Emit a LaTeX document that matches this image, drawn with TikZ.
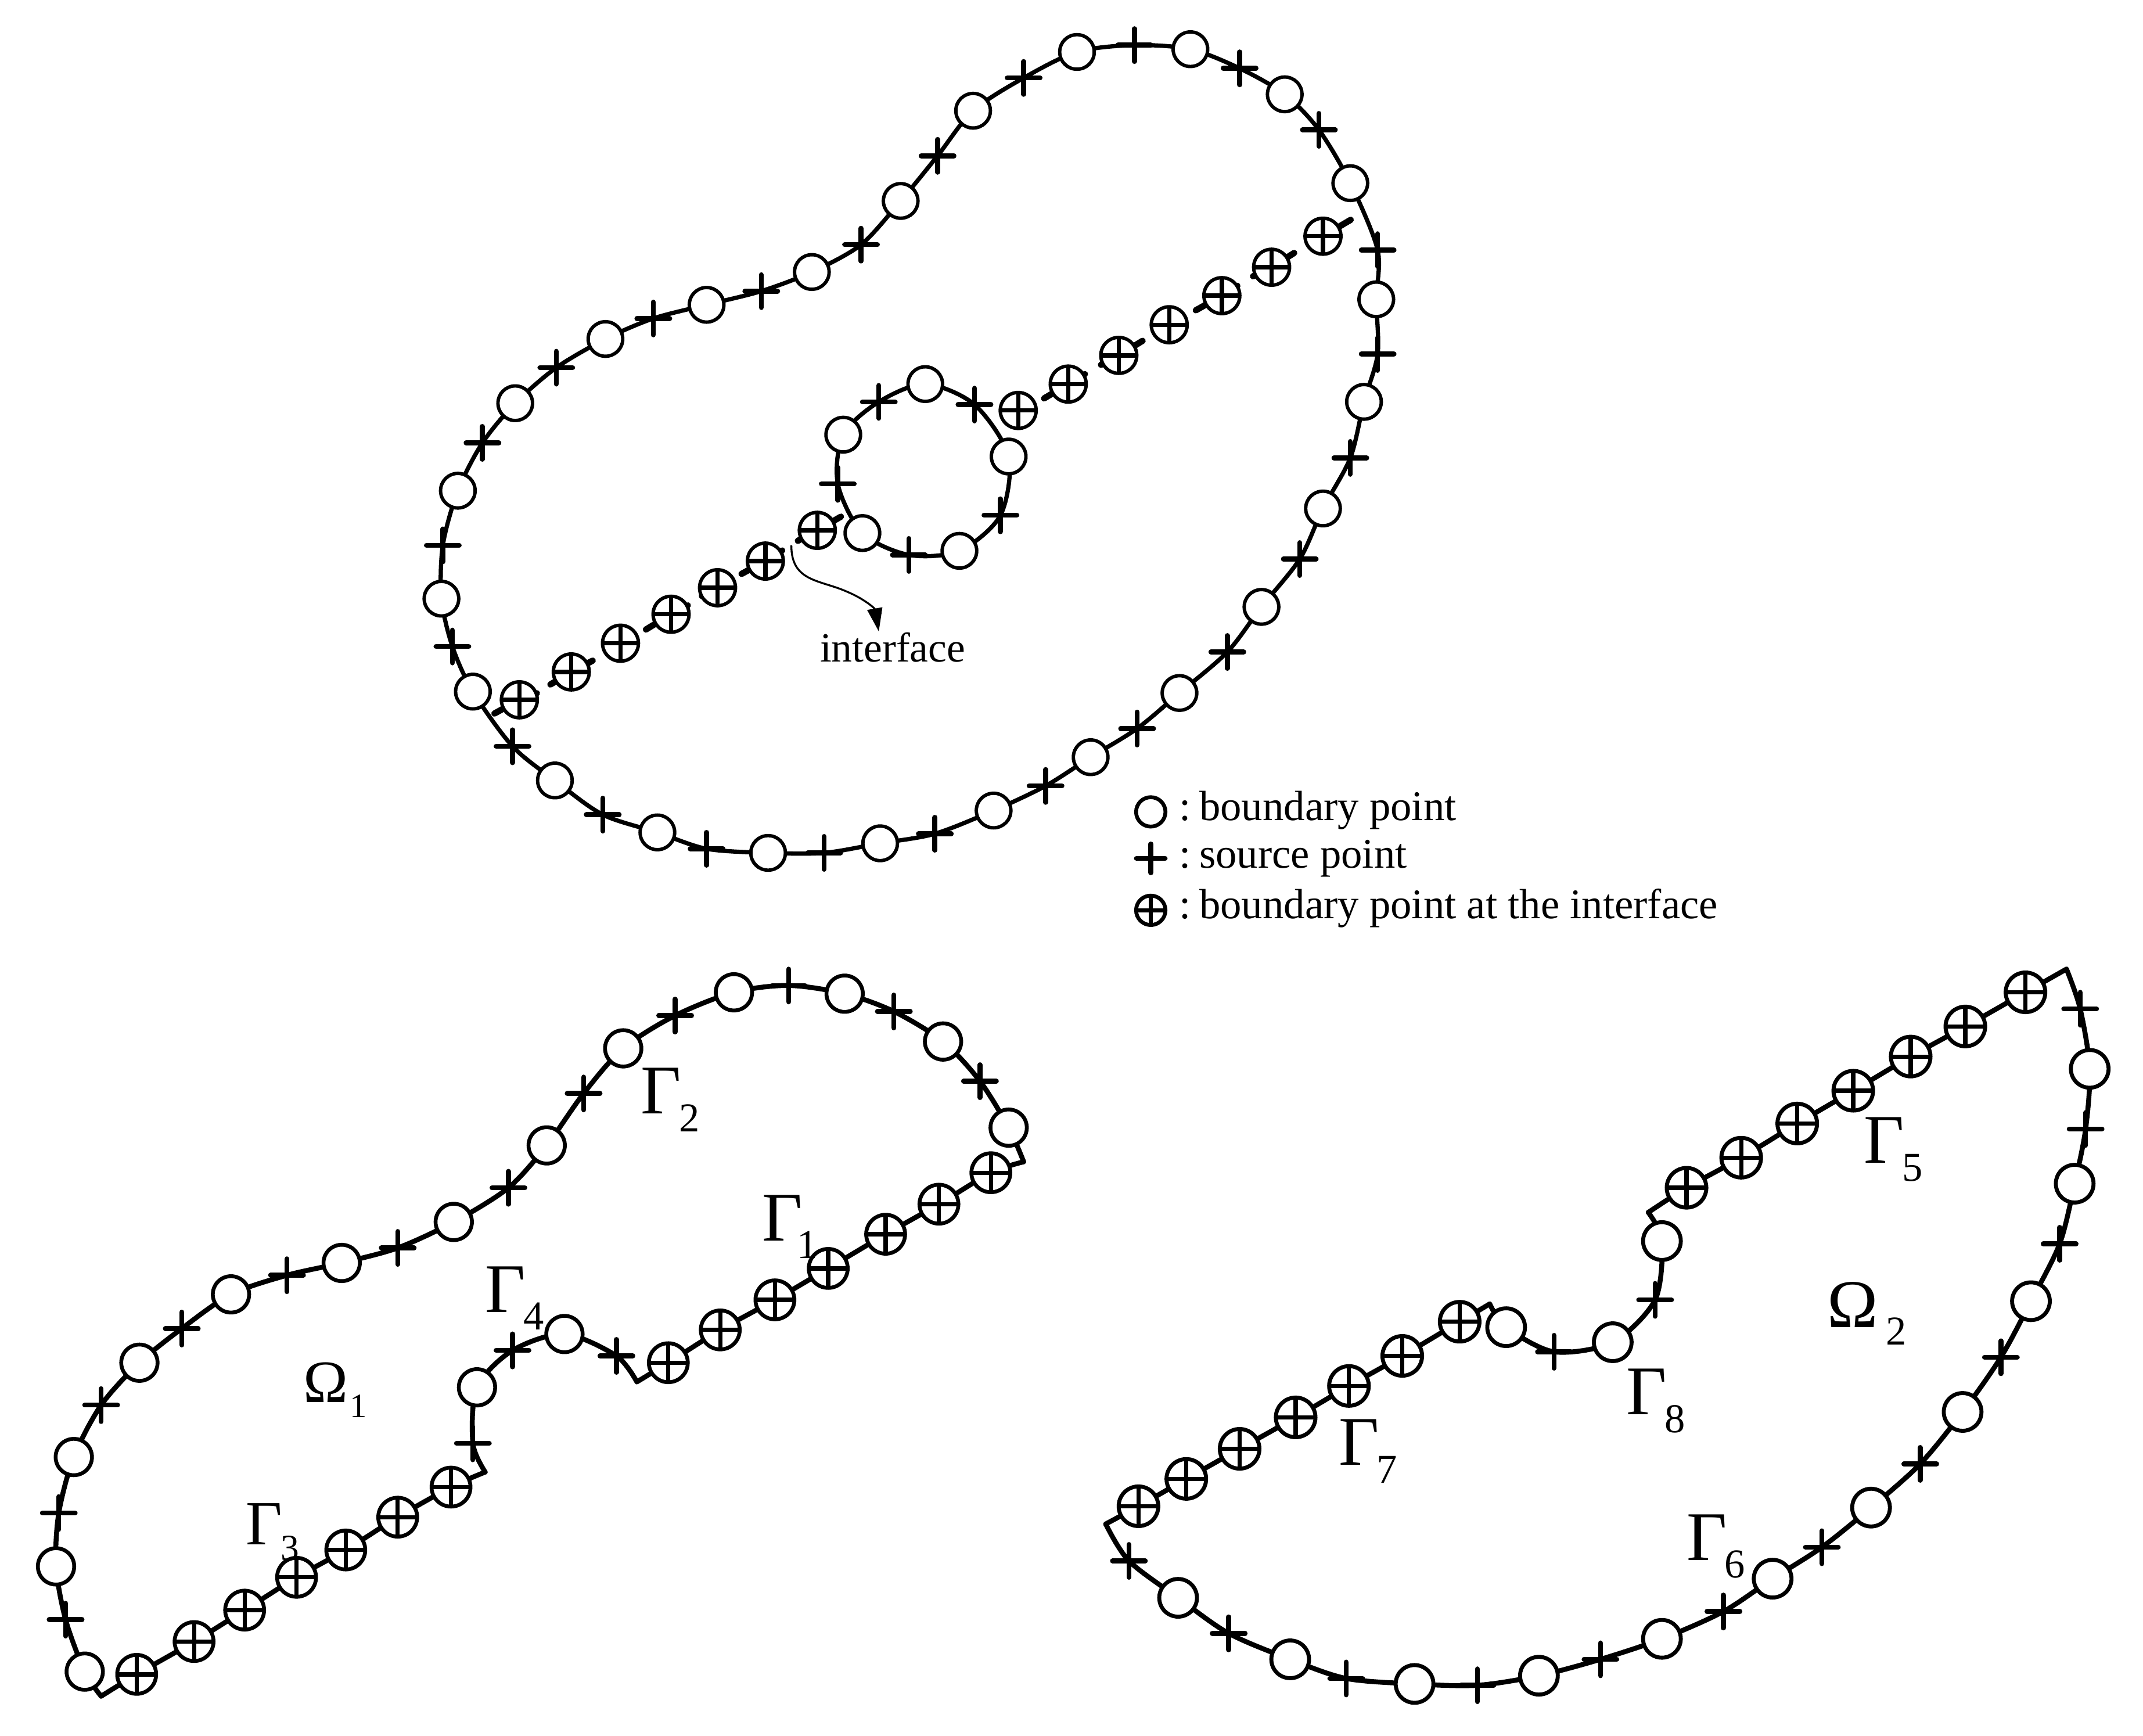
\documentclass[tikz,border=0pt]{standalone}
\usepackage{fontspec}
\setmainfont{Liberation Serif}
\usetikzlibrary{arrows.meta,shapes.geometric}
\newcount\pc
\newcommand\curvew{3.1pt}
\newcommand\ringw{2.5pt}
\newcommand\bsize{25.3pt}
\newcommand\isize{26.3pt}
\tikzset{
 curve/.style={line width=\curvew,line join=round,line cap=round},
 bpt/.style={circle,draw,fill=white,line width=\ringw,minimum size=\bsize,inner sep=0pt,outer sep=0pt},
 ipt/.style={circle,draw,fill=white,line width=\ringw,minimum size=\isize,inner sep=0pt,outer sep=0pt},
 crossln/.style={line width=3.6pt,line cap=round},
 icross/.style={line width=3.1pt},
 stub/.style={line width=4.6pt,line cap=round,shorten >=2pt},
 lab/.style={inner sep=0pt,outer sep=0pt,anchor=base west},
}
\newcommand\mkplus[4][12]{\coordinate (#2) at (#3,#4);\draw[crossln] (#2) +(-#1,0) -- +(#1,0) (#2) +(0,-#1) -- +(0,#1);}
\newcommand\mkb[2]{\node[bpt] (p\the\pc) at (#1,#2) {};}
\newcommand\mks[2]{\mkplus{p\the\pc}{#1}{#2}}
\newcommand\mki[2]{\node[ipt] (p\the\pc) at (#1,#2) {};\draw[icross] (p\the\pc.west) -- (p\the\pc.east) (p\the\pc.north) -- (p\the\pc.south);}
\newcommand\mkc[2]{}
\newcommand\seg[2]{%
 \gdef\acc{}%
 \foreach \x/\y/\ty in {#2}{\xdef\acc{\acc\space(\x,\y)}}%
 \edef\tmp{\noexpand\draw[curve] plot[#1] coordinates {\acc};}\tmp
 \foreach \x/\y/\ty in {#2}{\global\advance\pc by 1 \csname mk\ty\endcsname{\x}{\y}}%
}
% size, box width, sub size, drop, sub
\newcommand\Gm[5]{\makebox[#2pt][l]{\fontsize{#1}{#1}\selectfont Γ}\raisebox{-#4pt}{\fontsize{#3}{#3}\selectfont #5}}
\newcommand\Om[5]{\makebox[#2pt][l]{\fontsize{#1}{#1}\selectfont Ω}\raisebox{-#4pt}{\fontsize{#3}{#3}\selectfont #5}}
\newcommand\Ga[1]{\Gm{51}{28}{30}{13}{#1}}
\newcommand\legtext[1]{\fontsize{30.9}{30.9}\selectfont :\kern6pt #1}
\begin{document}
\begin{tikzpicture}[x=1pt,y=-1pt]
\useasboundingbox (0,0) rectangle (1568,1270);
% top shape, outer contour
\seg{smooth cycle}{346/506/b,375/546/s,406/571/b,441/596/s,481/609/b,517/621/s,562/624/b,603/624/s,644/617/b,684/610/s,727/593/b,765/575/s,798/554/b,832/533/s,863/507/b,898/477/s,923/444/b,951/409/s,968/372/b,988/335/s,998/294/b,1008/259/s,1007/219/b,1008/183/s,988/134/b,965/95/s,940/69/b,907/50/s,871/36/b,830/33/s,788/38/b,749/57/s,712/81/b,686/114/s,659/147/b,630/179/s,594/199/b,557/213/s,517/223/b,478/233/s,443/248/b,407/269/s,377/295/b,353/324/s,335/359/b,324/399/s,323/438/b,331/473/s}
% inner ring
\seg{smooth cycle}{617/318/b,643/294/s,677/281/b,713/296/s,738/334/b,732/377/s,702/403/b,665/406/s,631/390/b,613/354/s}
% interface stubs, from point to free end
\foreach \x/\y/\ex/\ey in {
 380/512/360/523, 380/512/394.7/506.5,
 418/491.6/401/501.8, 418/491.6/435.4/482.4,
 491/449.4/470.9/461.6, 491/449.4/505/442,
 525/430/511.8/437,
 560/410.5/540.8/420.8, 560/410.5/574/401.7,
 598/388/582/396.6, 598/388/617/377,
 781.6/281/762.2/292.5, 781.6/281/795.5/272.7,
 818.6/260/803.8/267.8, 818.6/260/837.7/248.3,
 894/216.3/873.2/228, 894/216.3/907/208,
 930.4/195.5/915/203, 930.4/195.5/948.6/184,
 968/172.8/990/159.8}{
 \draw[stub] (\x,\y) -- (\ex,\ey);
}
\foreach \x/\y in {380/512,418/491.6,454/470.6,491/449.4,525/430,560/410.5,598/388,745/300.3,781.6/281,818.6/260,855.5/237.6,894/216.3,930.4/195.5,968/172.8}{
 \global\advance\pc by 1
 \mki{\x}{\y}
}
% arrow to the interface label
\node[lab] (ifl) at (600,484) {\fontsize{30.4}{30.4}\selectfont interface};
\coordinate (a0) at (579,399);
\coordinate (a1) at (643,462);
\draw[line width=1.4pt,-{Stealth[length=17pt,width=11pt,inset=0pt]}] (a0) .. controls (579,426) and (600,424) .. (620,433) .. controls (632,438) and (640,445) .. (a1);
% legend
\node[circle,draw,fill=white,line width=2.8pt,minimum size=21.5pt,inner sep=0pt] (lb) at (842,594) {};
\mkplus[10.5]{ls}{842}{628}
\node[circle,draw,fill=white,line width=2.8pt,minimum size=21.5pt,inner sep=0pt] (li) at (842,666) {};
\draw[line width=3pt] (li.west) -- (li.east) (li.north) -- (li.south);
\node[lab] (l1) at (863,600) {\legtext{boundary point}};
\node[lab] (l2) at (863,635) {\legtext{source point}};
\node[lab] (l3) at (863,672) {\legtext{boundary point at the interface}};
% Omega 1
\renewcommand\curvew{3.6pt}\renewcommand\ringw{2.8pt}\renewcommand\bsize{26.6pt}\renewcommand\isize{28.5pt}
\seg{smooth}{74/1241/c,62/1223/b,48/1185/s,41/1146/b,43/1107/s,54/1066/b,74/1028/s,102/997/b,133/972/s,169/947/b,210/933/s,250/924/b,291/913/s,332/894/b,372/869/s,400/838/b,427/800/s,456/767/b,494/743/s,537/726/b,577/721/s,618/727/b,654/740/s,690/762/b,717/791/s,738/825/b,749/850/c}
\seg{smooth}{749/850/c,725/858/i,687/881/i,648/903/i,606/928/i,567/951/i,527/973/i,489/997/i,466/1011/c}
\seg{smooth}{466/1011/c,451/992/s,413/976/b,375/988/s,349/1015/b,346/1056/s,355/1077/c}
\seg{smooth}{355/1077/c,330/1088/i,291/1110/i,253/1134/i,217/1154/i,179/1178/i,142/1201/i,100/1225/i,74/1241/c}
% Omega 2
\renewcommand\ringw{2.9pt}\renewcommand\bsize{27.6pt}\renewcommand\isize{29pt}
\seg{smooth}{1512/709/c,1522/738/s,1529/782/b,1526/826/s,1518/866/b,1507/910/s,1486/952/b,1464/993/s,1436/1033/b,1405/1071/s,1369/1103/b,1333/1132/s,1297/1155/b,1261/1179/s,1216/1199/b,1171/1214/s,1126/1226/b,1081/1233/s,1035/1232/b,985/1228/s,944/1214/b,899/1195/s,862/1169/b,826/1142/s,809/1115/c}
\seg{smooth}{809/1115/c,833/1102/i,868/1082/i,907/1060/i,948/1037/i,987/1014/i,1026/992/i,1068/967/i,1090/954/c}
\seg{smooth}{1090/954/c,1102/971/b,1137/989/s,1180/982/b,1211/951/s,1216/908/b,1206/887/c}
\seg{smooth}{1206/887/c,1234/869/i,1274/847/i,1315/822/i,1356/798/i,1398/773/i,1438/751/i,1482/726/i,1512/709/c}
% labels
\node[lab] (g1) at (557.6,908) {\Gm{51}{25.5}{30}{12.6}{1}};
\node[lab] (g2) at (469,815) {\Ga{2}};
\node[lab] (g3) at (180,1130) {\Gm{46}{25.5}{27}{11.4}{3}};
\node[lab] (g4) at (355,960) {\Ga{4}};
\node[lab] (g5) at (1364,851) {\Ga{5}};
\node[lab] (g6) at (1234,1141.5) {\Ga{6}};
\node[lab] (g7) at (979.5,1072) {\Ga{7}};
\node[lab] (g8) at (1190,1035) {\Ga{8}};
\node[lab] (o1) at (222,1026) {\Om{44}{34}{25}{11}{1}};
\node[lab] (o2) at (1337,971) {\Om{50}{43}{30}{13}{2}};
\end{tikzpicture}
\end{document}
